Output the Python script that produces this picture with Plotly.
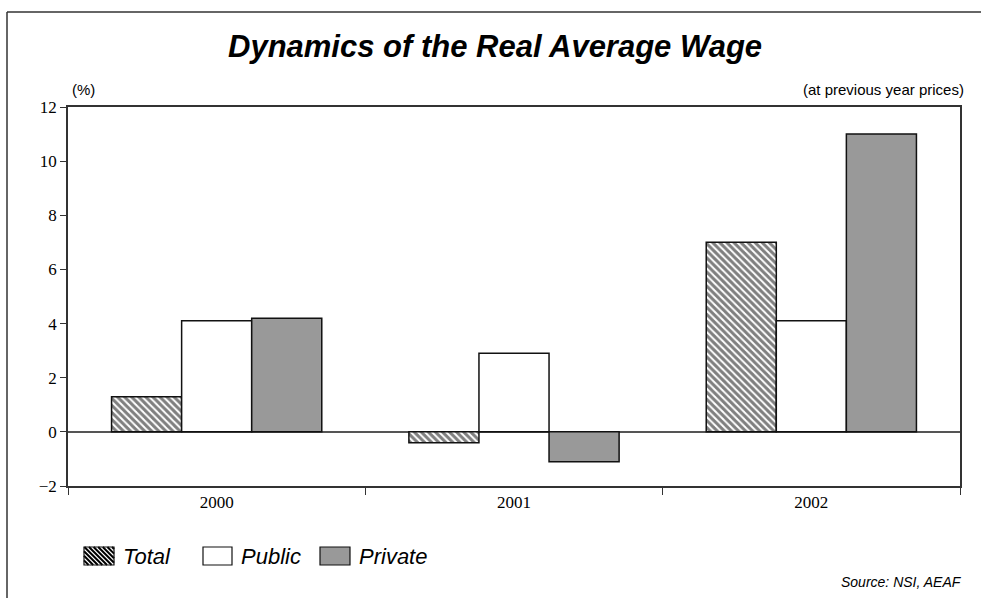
import plotly.graph_objects as go

# Real average wage growth, % at previous year prices
years = ["2000", "2001", "2002"]
total = [1.3, -0.4, 7.0]
public = [4.1, 2.9, 4.1]
private = [4.2, -1.1, 11.0]

series_names = ["Total", "Public", "Private"]
y_ticks = [-2, 0, 2, 4, 6, 8, 10, 12]

W, H = 981, 598
L, R, T, B = 68, 21, 107, 112
PW, PH = W - L - R, H - T - B


def px(x):
    return (x - L) / PW


def py(y):
    return (H - B - y) / PH


SANS = "Liberation Sans, Arial, sans-serif"
SERIF = "Liberation Serif, Times New Roman, serif"
OUTLINE = dict(color="#111111", width=1.5)

fig = go.Figure()
fig.add_trace(go.Bar(
    x=years, y=total, name=series_names[0],
    marker=dict(color="white", line=OUTLINE,
                pattern=dict(shape="\\", fgcolor="black", bgcolor="white",
                             size=5, solidity=0.6)),
))
fig.add_trace(go.Bar(
    x=years, y=public, name=series_names[1],
    marker=dict(color="white", line=OUTLINE),
))
fig.add_trace(go.Bar(
    x=years, y=private, name=series_names[2],
    marker=dict(color="#999999", line=OUTLINE),
))

shapes = []
annotations = []

# outer frame (top and left edges)
shapes.append(dict(type="line", xref="paper", yref="paper",
                   x0=px(7), y0=py(12), x1=px(W + 5), y1=py(12),
                   line=dict(color="#333333", width=1.5)))
shapes.append(dict(type="line", xref="paper", yref="paper",
                   x0=px(7), y0=py(12), x1=px(7), y1=py(H + 5),
                   line=dict(color="#333333", width=1.5)))

# legend swatches drawn by hand
sw_y0, sw_y1 = 547, 565
swatches = [(84, 114), (203, 232), (320, 350)]
fills = ["rgba(0,0,0,0)", "white", "#999999"]
label_x = [121, 239, 357]

# hatch lines for the Total swatch
x0, x1 = swatches[0]
period = 4.6
segs = []
c = x0 - sw_y1
while c < x1 - sw_y0:
    # line: y = x - c (screen coords, falling to the right)
    xa = max(x0, sw_y0 + c)
    xb = min(x1, sw_y1 + c)
    if xb > xa:
        segs.append(f"M{px(xa):.5f},{py(xa - c):.5f}L{px(xb):.5f},{py(xb - c):.5f}")
    c += period
shapes.append(dict(type="path", xref="paper", yref="paper", path="".join(segs),
                   line=dict(color="black", width=2)))

for (a, b), fc, lx, name in zip(swatches, fills, label_x, series_names):
    shapes.append(dict(type="rect", xref="paper", yref="paper",
                       x0=px(a), x1=px(b), y0=py(sw_y1), y1=py(sw_y0),
                       fillcolor=fc, line=dict(color="#111111", width=1.2)))
    annotations.append(dict(xref="paper", yref="paper", x=px(lx), y=py(556),
                            text=f"<i>{name}</i>", showarrow=False,
                            xanchor="left", yanchor="middle",
                            font=dict(family=SANS, size=22, color="black")))

annotations += [
    dict(xref="paper", yref="paper", x=px(495), y=py(46),
         text="<b><i>Dynamics of the Real Average Wage</i></b>", showarrow=False,
         xanchor="center", yanchor="middle",
         font=dict(family=SANS, size=31, color="black")),
    dict(xref="paper", yref="paper", x=px(70), y=py(90), text="(%)",
         showarrow=False, xanchor="left", yanchor="middle",
         font=dict(family=SANS, size=15, color="black")),
    dict(xref="paper", yref="paper", x=px(966), y=py(90),
         text="(at previous year prices)", showarrow=False,
         xanchor="right", yanchor="middle",
         font=dict(family=SANS, size=15, color="black")),
    dict(xref="paper", yref="paper", x=px(964), y=py(582),
         text="<i>Source: NSI, AEAF</i>", showarrow=False,
         xanchor="right", yanchor="middle",
         font=dict(family=SANS, size=14, color="black")),
]

fig.update_layout(
    width=W, height=H,
    margin=dict(l=L, r=R, t=T, b=B, pad=0),
    paper_bgcolor="white", plot_bgcolor="white",
    barmode="group", bargap=0.293, bargroupgap=0,
    showlegend=False,
    shapes=shapes, annotations=annotations,
    xaxis=dict(type="category", tickson="boundaries", ticks="outside",
               ticklen=7, tickcolor="#333333", showline=True, linecolor="#333333",
               linewidth=1.5, mirror=True, showgrid=False,
               tickfont=dict(family=SERIF, size=17, color="black")),
    yaxis=dict(range=[-2, 12], tickvals=y_ticks, ticks="outside", ticklen=6,
               tickcolor="#333333", showline=True, linecolor="#333333",
               linewidth=1.5, mirror=True, showgrid=False,
               zeroline=True, zerolinecolor="#555555", zerolinewidth=1.5,
               tickfont=dict(family=SERIF, size=17, color="black")),
)

fig.write_html("out.html")
